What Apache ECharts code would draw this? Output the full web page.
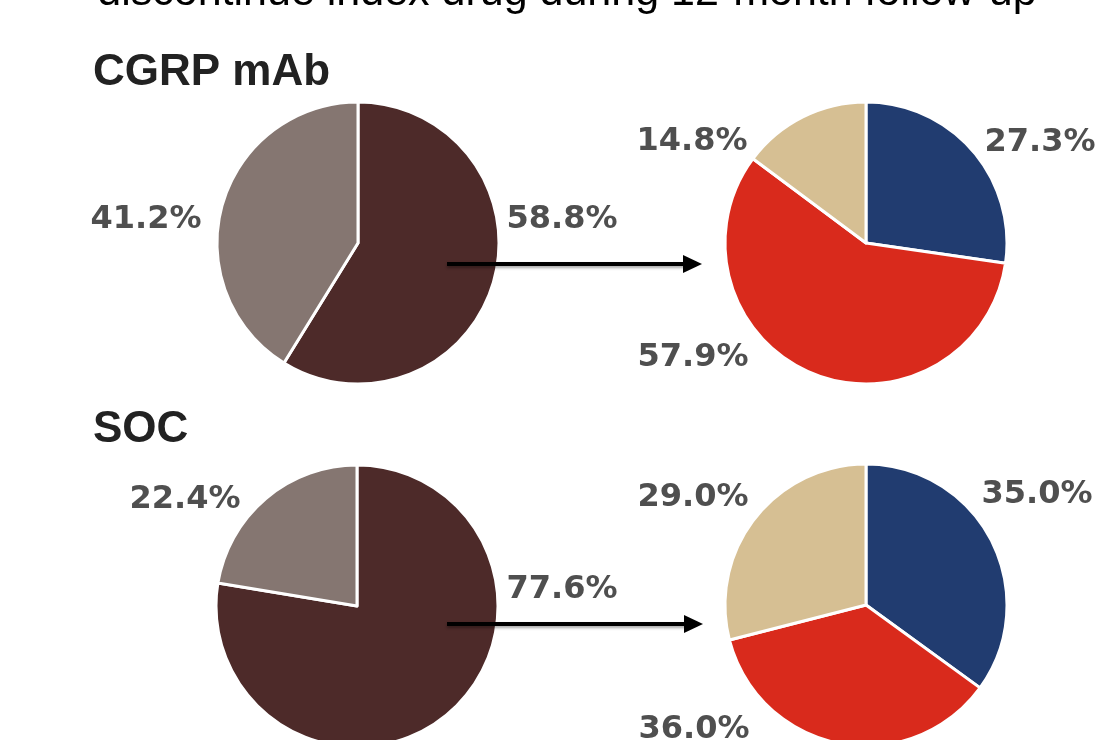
<!DOCTYPE html>
<html>
<head>
<meta charset="utf-8">
<script src="https://cdn.jsdelivr.net/npm/echarts@6/dist/echarts.min.js"></script>
<style>
  html, body { margin: 0; padding: 0; background: #ffffff; }
  #chart { width: 1116px; height: 740px; }
</style>
</head>
<body>
<div id="chart"></div>
<script>
// ---- data ----
var titleLine = 'discontinue index drug during 12-month follow-up';
var groupNames = ['CGRP mAb', 'SOC'];
var baselineCategories = ['Discontinued', 'Persistent'];
var cgrpBaseline = [58.8, 41.2];
var socBaseline = [77.6, 22.4];
var followCategories = ['Category A', 'Category B', 'Category C'];
var cgrpFollow = [27.3, 57.9, 14.8];
var socFollow = [35.0, 36.0, 29.0];

// ---- styles / layout ----
var baseColors = ['#4d2a29', '#857671'];
var followColors = ['#213c70', '#d92a1c', '#d6bf93'];
var R = 141;
var centers = [[358, 243], [866, 243], [357, 606], [866, 605]];
var labelPos = [
  [[562, 220], [146, 220]],
  [[1040, 143], [693, 358], [692, 142]],
  [[562, 590], [185, 500]],
  [[1037, 495], [694, 730], [693, 498]]
];
var labelFont = { fontFamily: 'DejaVu Sans', fontWeight: 'bold', fontSize: 32, color: '#4f4f4f' };

function makePie(idx, cats, vals, colors) {
  return {
    type: 'pie',
    center: centers[idx],
    radius: [0, R],
    startAngle: 90,
    clockwise: true,
    animation: false,
    silent: true,
    itemStyle: { borderColor: '#ffffff', borderWidth: 3 },
    label: {
      show: true,
      position: 'outside',
      overflow: 'none',
      width: 200,
      formatter: function (p) { return p.value.toFixed(1) + '%'; },
      fontFamily: labelFont.fontFamily,
      fontWeight: labelFont.fontWeight,
      fontSize: labelFont.fontSize,
      color: labelFont.color
    },
    labelLine: { show: false },
    labelLayout: function (p) {
      var pos = labelPos[idx][p.dataIndex];
      return { x: pos[0], y: pos[1], align: 'center', verticalAlign: 'middle', hideOverlap: false };
    },
    data: cats.map(function (c, i) {
      return { name: c, value: vals[i], itemStyle: { color: colors[i] } };
    })
  };
}

function arrow(y, x0, x1) {
  return [
    { type: 'line', z: 100, shape: { x1: x0, y1: y, x2: x1 - 12, y2: y },
      style: { stroke: '#000000', lineWidth: 4, shadowBlur: 3, shadowColor: 'rgba(0,0,0,0.35)', shadowOffsetY: 2 } },
    { type: 'polygon', z: 100, shape: { points: [[x1 - 19, y - 9], [x1, y], [x1 - 19, y + 9]] },
      style: { fill: '#000000' } }
  ];
}

var chart = echarts.init(document.getElementById('chart'), null, { renderer: 'canvas' });
chart.setOption({
  backgroundColor: '#ffffff',
  animation: false,
  series: [
    makePie(0, baselineCategories, cgrpBaseline, baseColors),
    makePie(1, followCategories, cgrpFollow, followColors),
    makePie(2, baselineCategories, socBaseline, baseColors),
    makePie(3, followCategories, socFollow, followColors)
  ],
  graphic: [
    { type: 'text', z: 100, x: 567, y: -7,
      style: { text: titleLine, fontFamily: 'Liberation Sans', fontSize: 43, fill: '#000000', align: 'center', verticalAlign: 'middle' } },
    { type: 'text', z: 100, x: 93, y: 73,
      style: { text: groupNames[0], fontFamily: 'Liberation Sans', fontWeight: 'bold', fontSize: 44, fill: '#222222', align: 'left', verticalAlign: 'middle' } },
    { type: 'text', z: 100, x: 93, y: 430,
      style: { text: groupNames[1], fontFamily: 'Liberation Sans', fontWeight: 'bold', fontSize: 44, fill: '#222222', align: 'left', verticalAlign: 'middle' } }
  ].concat(arrow(264, 447, 702)).concat(arrow(624, 447, 703))
});
</script>
</body>
</html>
